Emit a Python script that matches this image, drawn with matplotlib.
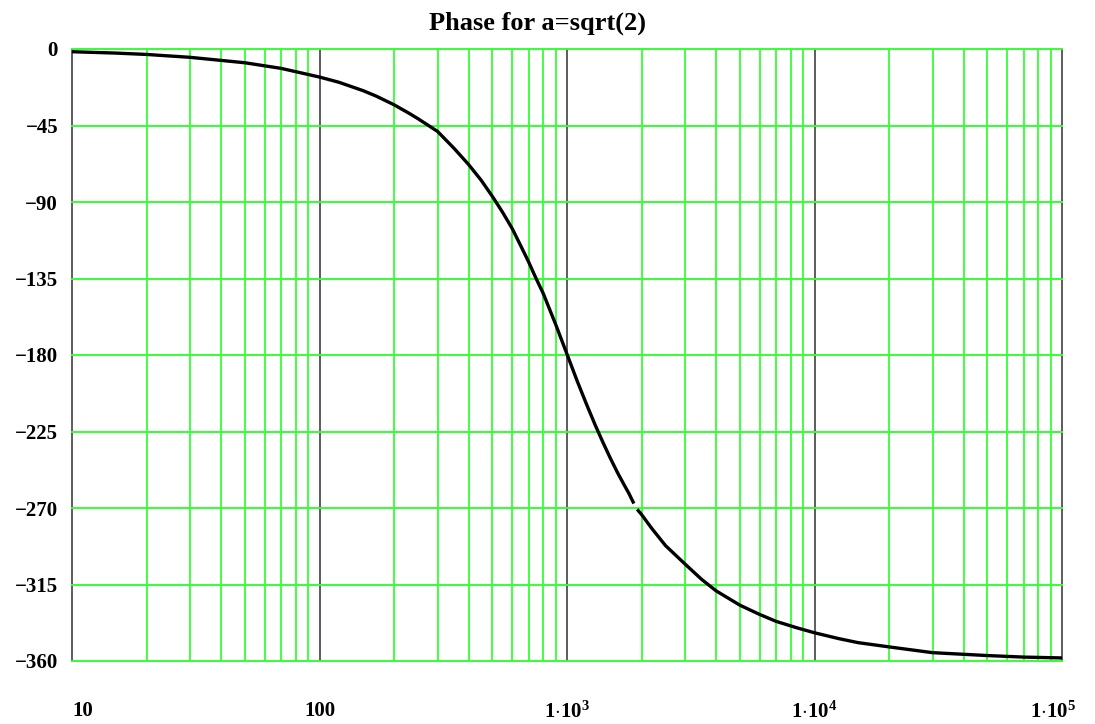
import numpy as np
import matplotlib
matplotlib.use("Agg")
import matplotlib.pyplot as plt
import matplotlib.transforms as mtransforms

# ============================================================
# DONNÉES
# ============================================================
freq_haut = [10, 15, 20, 30, 50, 70, 100, 120, 150, 170, 200, 230, 250, 300,
             350, 400, 450, 500, 550, 600, 650, 700, 750, 800, 850, 900, 950,
             1000, 1100, 1200, 1300, 1400, 1500, 1600, 1700, 1780, 1850]
phase_haut = [-1.6, -2.4, -3.2, -4.9, -8.1, -11.4, -16.5, -19.6, -24.5, -27.8,
              -32.8, -37.8, -41.0, -48.5, -58.5, -67.9, -77.2, -86.8, -96.2,
              -105.5, -115.7, -125.3, -135.0, -143.5, -153.0, -162.0, -171.0,
              -179.5, -195.4, -209.1, -221.2, -231.7, -241.0, -249.2, -256.3,
              -261.5, -266.5]

freq_bas = [1940, 2000, 2200, 2500, 3000, 3500, 4000, 5000, 6000, 7000, 8500,
            10000, 12500, 15000, 20000, 30000, 50000, 70000, 100000]
phase_bas = [-271.5, -273.8, -282.0, -292.1, -303.0, -312.0, -318.7, -327.2,
             -332.6, -336.7, -340.5, -343.4, -346.8, -349.2, -351.7, -355.1,
             -356.8, -357.7, -358.2]

y_ticks = [0, -45, -90, -135, -180, -225, -270, -315, -360]
x_ticks = [10, 100, 1e3, 1e4, 1e5]
x_labels = ["10", "100", r"1$\cdot$10$^{3}$", r"1$\cdot$10$^{4}$", r"1$\cdot$10$^{5}$"]
titre = "Phase for a=sqrt(2)"

# ============================================================
# STYLE
# ============================================================
plt.rcParams["font.family"] = ["Liberation Serif", "DejaVu Serif"]
plt.rcParams["font.weight"] = "bold"
plt.rcParams["mathtext.fontset"] = "custom"
plt.rcParams["mathtext.rm"] = "Liberation Serif:bold"
plt.rcParams["mathtext.it"] = "Liberation Serif:bold"
plt.rcParams["mathtext.bf"] = "Liberation Serif:bold"

VERT = "#33ff33"

fig = plt.figure(figsize=(10.95, 7.24), dpi=100)
ax = fig.add_axes([72 / 1095, 1 - 661 / 724, (1062 - 72) / 1095, (661 - 49) / 724])

ax.set_xscale("log")
ax.set_xlim(10, 1e5)
ax.set_ylim(-360, 0)

# grille : verticales vertes (2..9), noires aux décades ; horizontales vertes
ax.set_xticks(x_ticks)
ax.set_xticks([m * 10 ** d for d in range(1, 5) for m in range(2, 10)], minor=True)
ax.set_yticks(y_ticks)
ax.grid(True, which="minor", axis="x", color=VERT, lw=1.3)
ax.grid(True, which="major", axis="y", color=VERT, lw=1.4)
ax.grid(True, which="major", axis="x", color="#303030", lw=1.1)
ax.set_axisbelow(True)
for s in ax.spines.values():
    s.set_visible(False)
ax.tick_params(which="both", length=0)
for gl in ax.get_xgridlines() + ax.get_ygridlines():
    gl.set_clip_on(False)

ax.plot(freq_haut, phase_haut, color="black", lw=2.4, zorder=3)
ax.plot(freq_bas, phase_bas, color="black", lw=2.4, zorder=3)

ax.set_yticklabels([str(v).replace("-", "\u2212") for v in y_ticks],
                   fontsize=15, fontweight="bold")
ax.tick_params(axis="y", pad=10)
ax.set_xticklabels(x_labels, fontsize=15, fontweight="bold")
ax.tick_params(axis="x", pad=29)
lbls = ax.get_xticklabels()
lbls[0].set_ha("left")
lbls[-1].set_ha("right")
lbls[-1].set_transform(lbls[-1].get_transform() +
                       mtransforms.ScaledTranslation(0.14, 0, fig.dpi_scale_trans))

ax.set_title(titre, fontsize=19, fontweight="bold", pad=14, x=0.47)

fig.savefig("out.png", dpi=100)
